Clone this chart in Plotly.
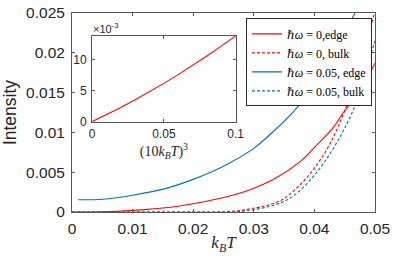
import plotly.graph_objects as go

# ---- data ----
kT_red_edge = [0.0, 0.005, 0.010, 0.0162, 0.0211, 0.026, 0.0294, 0.0335, 0.0376, 0.0405, 0.043, 0.0447, 0.0475, 0.050]
I_red_edge = [0.0, 0.00002, 0.0002, 0.0006, 0.0012, 0.0020, 0.0028, 0.0042, 0.0063, 0.0085, 0.0105, 0.0124, 0.0153, 0.0187]

kT_red_bulk = [0.0, 0.010, 0.020, 0.025, 0.028, 0.0294, 0.032, 0.0348, 0.0376, 0.040, 0.042, 0.0435, 0.0461, 0.048, 0.0496, 0.050]
I_red_bulk = [0.0, 0.0, 0.0, 0.00003, 0.0002, 0.0004, 0.0008, 0.0016, 0.0034, 0.0055, 0.0078, 0.0100, 0.0149, 0.0190, 0.0241, 0.0255]

kT_blue_edge = [0.001, 0.005, 0.010, 0.0157, 0.020, 0.0228, 0.0261, 0.030, 0.0338, 0.037, 0.0403, 0.0435, 0.0467, 0.048]
I_blue_edge = [0.00154, 0.0016, 0.0021, 0.0030, 0.0041, 0.00496, 0.0062, 0.0080, 0.01052, 0.0130, 0.01616, 0.0205, 0.0250, 0.0270]

kT_blue_bulk = [0.0, 0.010, 0.020, 0.027, 0.030, 0.0335, 0.0365, 0.0403, 0.0428, 0.0447, 0.0465, 0.048, 0.050]
I_blue_bulk = [0.0, 0.0, 0.0, 0.00003, 0.0003, 0.0009, 0.0020, 0.0049, 0.0076, 0.0101, 0.0130, 0.0165, 0.0215]

inset_x = [0.0, 0.01, 0.02, 0.03, 0.04, 0.05, 0.06, 0.07, 0.08, 0.09, 0.10]
inset_y = [0.0, 0.00111, 0.00228, 0.00351, 0.00480, 0.00615, 0.00756, 0.00902, 0.01055, 0.01214, 0.01378]

main_xticks = [0, 0.01, 0.02, 0.03, 0.04, 0.05]
main_xticklabels = ["0", "0.01", "0.02", "0.03", "0.04", "0.05"]
main_yticks = [0, 0.005, 0.01, 0.015, 0.02, 0.025]
main_yticklabels = ["0", "0.005", "0.01", "0.015", "0.02", "0.025"]
inset_xticks = [0, 0.05, 0.1]
inset_xticklabels = ["0", "0.05", "0.1"]
inset_yticks = [0, 0.005, 0.01]
inset_yticklabels = ["0", "5", "10"]

names = ["<i>ℏω</i> = 0,edge", "<i>ℏω</i> = 0, bulk",
         "<i>ℏω</i> = 0.05, edge", "<i>ℏω</i> = 0.05, bulk"]

RED = "#FF0000"
BLUE = "#0072BD"
AX = "#262626"
SANS = "Liberation Sans, Arial, sans-serif"
SERIF = "Liberation Serif, DejaVu Serif, serif"

fig = go.Figure()
fig.add_trace(go.Scatter(x=kT_red_edge, y=I_red_edge, mode="lines", name=names[0],
                         line=dict(color=RED, width=1.1), line_shape="spline"))
fig.add_trace(go.Scatter(x=kT_red_bulk, y=I_red_bulk, mode="lines", name=names[1],
                         line=dict(color=RED, width=1.1, dash="3px,2px"), line_shape="spline"))
fig.add_trace(go.Scatter(x=kT_blue_edge, y=I_blue_edge, mode="lines", name=names[2],
                         line=dict(color=BLUE, width=1.1), line_shape="spline"))
fig.add_trace(go.Scatter(x=kT_blue_bulk, y=I_blue_bulk, mode="lines", name=names[3],
                         line=dict(color=BLUE, width=1.1, dash="3px,2px"), line_shape="spline"))
fig.add_trace(go.Scatter(x=inset_x, y=inset_y, mode="lines", showlegend=False,
                         line=dict(color=RED, width=1.1), xaxis="x2", yaxis="y2"))

axcommon = dict(showgrid=False, zeroline=False, showline=True, linecolor="#555555",
                linewidth=1, mirror="ticks", ticks="inside", ticklen=3,
                tickcolor="#555555", tickwidth=1, automargin=False)

fig.update_layout(
    width=415, height=260,
    margin=dict(l=71.5, r=39.5, t=12.7, b=47.7, pad=0, autoexpand=False),
    paper_bgcolor="white", plot_bgcolor="white",
    font=dict(family=SANS, color=AX),
    showlegend=True,
    legend=dict(x=0.99, y=0.973, xanchor="right", yanchor="top",
                bgcolor="white", bordercolor=AX, borderwidth=1,
                font=dict(family=SERIF, size=12, color="black"),
                tracegroupgap=0, itemwidth=30),
    xaxis=dict(range=[0, 0.05], tickvals=main_xticks, ticktext=main_xticklabels,
               tickfont=dict(size=15.5, color=AX), ticklabelstandoff=2,
               title=dict(text="<i>k</i><sub><i>B</i></sub><i>T</i>",
                          font=dict(family=SERIF, size=17, color=AX), standoff=0),
               **axcommon),
    yaxis=dict(range=[0, 0.025], tickvals=main_yticks, ticktext=main_yticklabels,
               tickfont=dict(size=15.5, color=AX), ticklabelstandoff=3,
               title=dict(text="Intensity", font=dict(family=SANS, size=17.5, color=AX), standoff=4),
               **axcommon),
    xaxis2=dict(domain=[0.0664, 0.540], anchor="y2", range=[0, 0.1],
                tickvals=inset_xticks, ticktext=inset_xticklabels,
                tickfont=dict(size=12, color=AX), ticklabelstandoff=1,
                title=dict(text="(10<i>k</i><sub><i>B</i></sub><i>T</i>)<sup>3</sup>",
                           font=dict(family=SERIF, size=14, color=AX), standoff=0),
                **axcommon),
    yaxis2=dict(domain=[0.454, 0.885], anchor="x2", range=[0, 0.01378],
                tickvals=inset_yticks, ticktext=inset_yticklabels,
                tickfont=dict(size=12, color=AX), ticklabelstandoff=2,
                **axcommon),
    annotations=[dict(text="×10<sup>-3</sup>", xref="x2 domain", yref="y2 domain",
                      x=0.0, y=1.0, xanchor="left", yanchor="bottom", showarrow=False,
                      font=dict(family=SANS, size=11, color=AX), xshift=-1, yshift=-1)],
)

fig.write_html("out.html",
               config={"displayModeBar": False},
               post_script="document.body.style.margin='0';document.body.style.overflow='hidden';")
